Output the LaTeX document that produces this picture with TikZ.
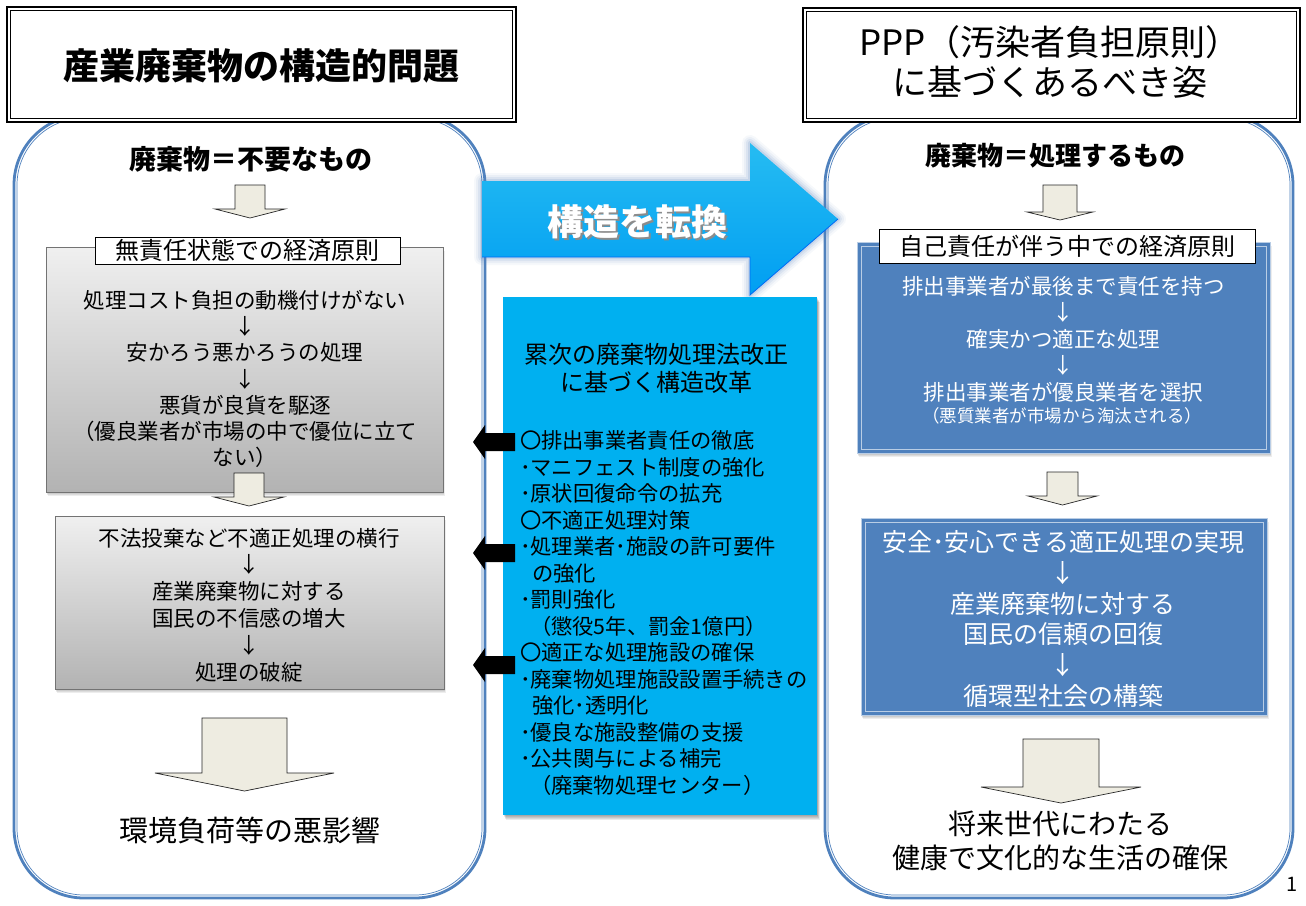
\documentclass[tikz,border=0pt]{standalone}
\usepackage{fontspec}
\setmainfont{Noto Sans CJK JP}
\definecolor{panelblue}{RGB}{79,129,189}
\definecolor{arrcyan}{RGB}{0,176,240}
\definecolor{tanfill}{RGB}{238,236,225}
\definecolor{lightrim}{RGB}{185,205,229}
\newcommand\fsz[2]{\fontsize{#1}{#2}\selectfont}
\newcommand\softshadow[4]{\foreach \s in {1,...,4}{\fill[black,opacity=0.07] ({#1+\s*0.4},{#2+\s*0.9}) rectangle ({#3+\s*0.4},{#4+\s*0.9});}}
\newcommand\blockdown[6]{% cx, top, shaft half, shaft bottom, head half, tip
  \draw[barrow] ({#1-#3},#2) -- ({#1+#3},#2) -- ({#1+#3},#4) -- ({#1+#5},#4) -- (#1,#6) -- ({#1-#5},#4) -- ({#1-#3},#4) -- cycle;}
\newcommand\blockleft[1]{% y centre
  \fill[black] (515,{#1-9}) -- (485,{#1-9}) -- (485,{#1-17}) -- (473,#1) -- (485,{#1+17}) -- (485,{#1+9}) -- (515,{#1+9}) -- cycle;}
\tikzset{
  x=1pt, y=-1pt,
  txt/.style={inner sep=0pt, outer sep=0pt, align=center},
  panelout/.style={draw=panelblue, line width=2.8pt, rounded corners=70pt},
  panelin/.style={draw=panelblue, line width=0.7pt, rounded corners=67pt},
  titlebox/.style={draw=black, line width=1.1pt, fill=white},
  titleinner/.style={draw=black, line width=1.1pt},
  barrow/.style={draw=black!85, line width=0.7pt, fill=tanfill, line join=miter},
  graybox/.style={draw=black!55, line width=0.6pt, top color=black!6, bottom color=black!30},
  bluebox/.style={draw=lightrim, line width=1pt, fill=panelblue},
  blueinner/.style={draw=lightrim, line width=0.8pt},
  labelbox/.style={draw=black, line width=0.8pt, fill=white, inner sep=0pt, font=\fsz{24}{28}},
}
\begin{document}
\begin{tikzpicture}
\useasboundingbox (0,0) rectangle (1306,905);
\fill[white] (0,0) rectangle (1306,905);

% ---------- panels ----------
\draw[panelout] (14,115) rectangle (485,898);
\draw[panelin] (17,118) rectangle (482,895);
\draw[panelout] (825,115) rectangle (1293,898);
\draw[panelin] (828,118) rectangle (1290,895);

% ---------- title boxes ----------
\draw[titlebox] (7,7) rectangle (516,122);
\draw[titleinner] (10.5,10.5) rectangle (512.5,118.5);
\node[txt, font=\fsz{36}{40}\bfseries] (ltitle) at (261,66) {産業廃棄物の構造的問題};

\draw[titlebox] (803,8) rectangle (1300,122);
\draw[titleinner] (806.5,11.5) rectangle (1296.5,118.5);
\node[txt, font=\fsz{35}{39.5}] (rtitle) at (1050,62) {PPP（汚染者負担原則）\\に基づくあるべき姿};

% ---------- left panel ----------
\node[txt, font=\fsz{27}{30}\bfseries] (lhead) at (251,159.5) {廃棄物＝不要なもの};
\blockdown{250}{185}{15}{209}{35}{218}

\softshadow{46}{247}{443}{492}
\draw[graybox] (46,247) rectangle (443,492);
\node[labelbox, minimum width=305pt, minimum height=27pt] (llabel) at (247.5,250.5) {無責任状態での経済原則};
\node[txt, font=\fsz{21.5}{26.3}] (lbox1) at (245,379)
  {処理コスト負担の動機付けがない\\↓\\安かろう悪かろうの処理\\↓\\悪貨が良貨を駆逐\\（優良業者が市場の中で優位に立て\\ない）};
\blockdown{249}{473}{15}{497}{35}{506}

\softshadow{55}{516}{444}{689}
\draw[graybox] (55,516) rectangle (444,689);
\node[txt, font=\fsz{21.5}{26.8}] (lbox2) at (249,605)
  {不法投棄など不適正処理の横行\\↓\\産業廃棄物に対する\\国民の不信感の増大\\↓\\処理の破綻};

\blockdown{244.5}{718}{42.5}{773}{89.5}{791}
\node[txt, font=\fsz{29}{32}] (lresult) at (250,830) {環境負荷等の悪影響};

% ---------- centre: big cyan arrow ----------
\foreach \w/\o in {16/0.05, 12/0.07, 8/0.1, 4/0.15}{
  \draw[line width=\w pt, draw=panelblue, opacity=\o, line join=round]
    (482,181) -- (750,181) -- (750,143) -- (838,219) -- (750,295) -- (750,257) -- (482,257) -- cycle;}
\shade[top color=arrcyan!85!white, bottom color=arrcyan!90!blue]
  (482,181) -- (750,181) -- (750,143) -- (838,219) -- (750,295) -- (750,257) -- (482,257) -- cycle;
\draw[arrcyan!60!blue, line width=0.8pt] (482,257) -- (750,257) -- (750,295) -- (838,219);
\node[txt, font=\fsz{36}{40}\bfseries, text=black!45] at (639.5,223.5) {構造を転換};
\node[txt, font=\fsz{36}{40}\bfseries, text=white] (shift) at (637.5,221.5) {構造を転換};

% ---------- centre: cyan box ----------
\foreach \s in {1,...,5}{\fill[black,opacity=0.08] ({503+\s*0.5},{297+\s*1}) rectangle ({817+\s*0.5},{815+\s*1});}
\fill[arrcyan] (503,297) rectangle (817,815);
\node[txt, font=\fsz{24}{27.5}] (ctitle) at (656,368.5) {累次の廃棄物処理法改正\\に基づく構造改革};
\node[txt, align=left, anchor=west, font=\fsz{21.3}{26.5}] (clist) at (520,613)
  {〇排出事業者責任の徹底\\
   ･マニフェスト制度の強化\\
   ･原状回復命令の拡充\\
   〇不適正処理対策\\
   ･処理業者･施設の許可要件\\
   \hspace*{12pt}の強化\\
   ･罰則強化\\
   \hspace*{10pt}（懲役5年、罰金1億円）\\
   〇適正な処理施設の確保\\
   ･廃棄物処理施設設置手続きの\\
   \hspace*{12pt}強化･透明化\\
   ･優良な施設整備の支援\\
   ･公共関与による補完\\
   \hspace*{10pt}（廃棄物処理センター）};
\blockleft{442}
\blockleft{553}
\blockleft{665}

% ---------- right panel ----------
\node[txt, font=\fsz{26}{30}\bfseries] (rhead) at (1055,155.5) {廃棄物＝処理するもの};
\blockdown{1060}{185}{17}{212}{33}{220}

\softshadow{857}{242}{1270}{453}
\draw[bluebox] (857,242) rectangle (1270,453);
\draw[blueinner] (861,246) rectangle (1266,449);
\node[labelbox, minimum width=376pt, minimum height=34pt] (rlabel) at (1067,246) {自己責任が伴う中での経済原則};
\node[txt, font=\fsz{21.5}{26.5}, text=white] (rbox1) at (1063.5,339)
  {排出事業者が最後まで責任を持つ\\↓\\確実かつ適正な処理\\↓\\排出事業者が優良業者を選択};
\node[txt, font=\fsz{17.5}{20}, text=white] (rbox1b) at (1062,416) {（悪質業者が市場から淘汰される）};
\blockdown{1062.5}{472}{15.5}{496}{34.5}{505}

\softshadow{861}{518}{1267}{715}
\draw[bluebox] (861,518) rectangle (1267,715);
\draw[blueinner] (865,522) rectangle (1263,711);
\node[txt, font=\fsz{25}{30.8}, text=white] (rbox2) at (1063,619)
  {安全･安心できる適正処理の実現\\↓\\産業廃棄物に対する\\国民の信頼の回復\\↓\\循環型社会の構築};

\blockdown{1061}{739}{38}{787}{80}{803}
\node[txt, font=\fsz{28}{34}] (rresult) at (1060,841) {将来世代にわたる\\健康で文化的な生活の確保};

\node[txt, font=\fsz{20}{22}] (pageno) at (1292,884) {1};
\end{tikzpicture}
\end{document}
